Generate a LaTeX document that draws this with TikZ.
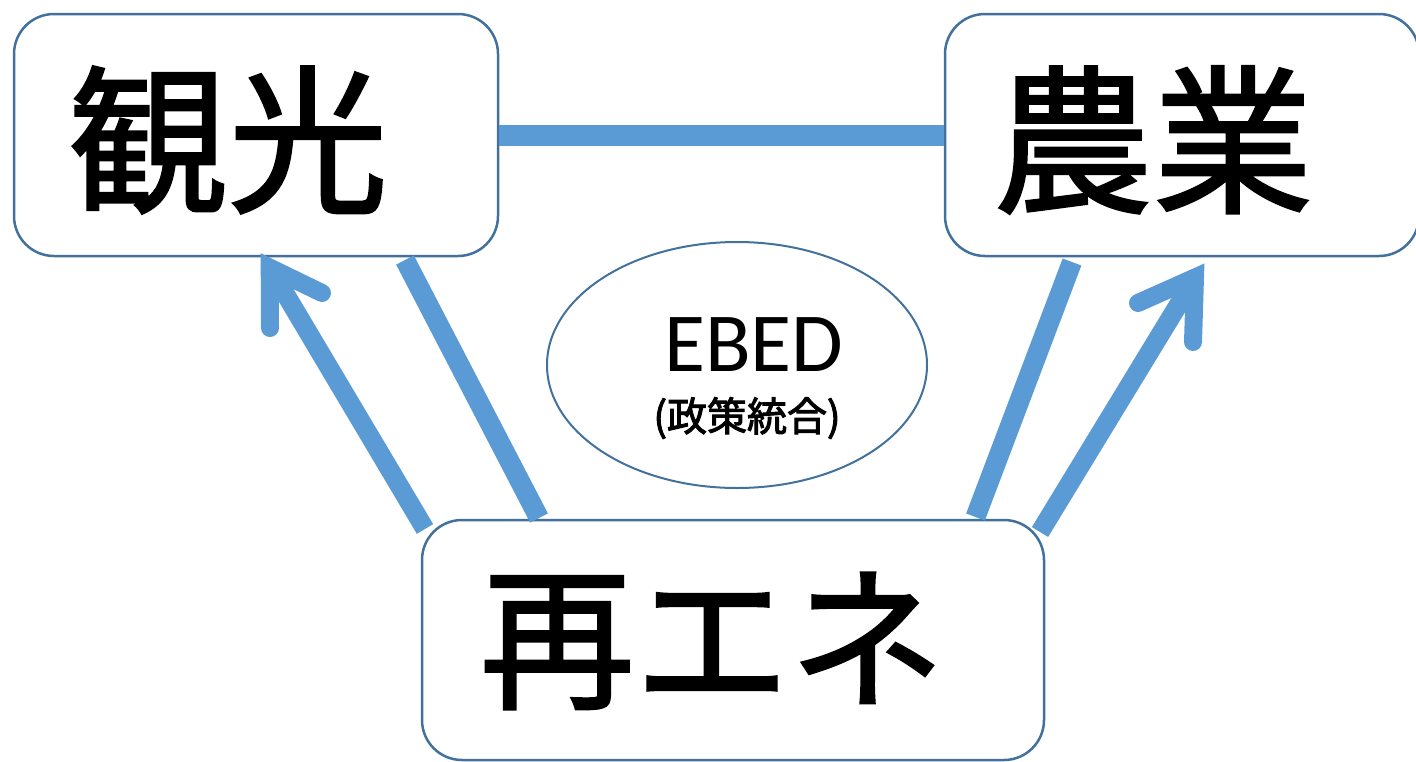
\documentclass[tikz,border=0pt]{standalone}
\usepackage{fontspec}
\setmainfont{Noto Sans CJK JP}
\newfontfamily\cjkheavy{Noto Sans CJK JP}[FakeBold=1.5]
\newfontfamily\cjksmall{Noto Sans CJK JP}[FakeBold=2.5]
\newfontfamily\latinfont{Carlito}
\usetikzlibrary{shapes.geometric}
\definecolor{connblue}{HTML}{5B9BD5}
\definecolor{edgeblue}{HTML}{41719C}
\begin{document}
\begin{tikzpicture}[x=1pt,y=-1pt,
  box/.style={draw=edgeblue, line width=2.5pt, rounded corners=40pt, fill=white, inner sep=0pt},
  bigtext/.style={font=\cjkheavy\fontsize{160}{160}\selectfont, inner sep=0pt},
  link/.style={draw=connblue, line width=20pt},
  headstyle/.style={draw=connblue, line width=18pt, line cap=round, line join=miter, miter limit=10}]
\useasboundingbox (0,0) rectangle (1416,761);
\clip (0,0) rectangle (1416,761);
% boxes
\node[box, minimum width=484pt, minimum height=242pt] (kanko) at (256,135) {};
\node[box, minimum width=474pt, minimum height=242pt] (nogyo) at (1182,135) {};
\node[box, minimum width=622pt, minimum height=240pt] (saiene) at (733,640) {};
\node[draw=edgeblue, line width=2pt, ellipse, minimum width=380pt, minimum height=246pt, inner sep=0pt] (ebed) at (737,365) {};
% texts
\node[bigtext] (tkanko) at (228,140) {観光};
\node[bigtext] (tnogyo) at (1153,140) {農業};
\node[font=\cjkheavy\fontsize{155}{155}\selectfont, inner sep=0pt] (tsaiene) at (712,641) {再エネ};
\node[font=\latinfont\fontsize{84}{84}\selectfont, inner sep=0pt] (tebed) at (754,345) {EBED};
\node[font=\cjksmall\fontsize{40}{40}\selectfont, inner sep=0pt] (tpolicy) at (747,418) {(政策統合)};
% connector coordinates
\coordinate (lA) at (405,260);
\coordinate (lB) at (539,518);
\coordinate (rA) at (1072,262);
\coordinate (rB) at (975.5,517);
\coordinate (alS) at (425,529);
\coordinate (alT) at (269.7,267.6);
\coordinate (alB1) at (270,328);
\coordinate (alB2) at (322,293);
\coordinate (arS) at (1040,532);
\coordinate (arT) at (1195,277.5);
\coordinate (arB1) at (1193,342);
\coordinate (arB2) at (1138,303);
% connectors
\draw[link, line width=21pt] (kanko.east) -- (nogyo.west);
\draw[link] (lA) -- (lB);
\draw[link] (rA) -- (rB);
\draw[link, line width=19pt] (alS) -- (alT);
\draw[headstyle] (alB1) -- (alT) -- (alB2);
\draw[link, line width=19pt] (arS) -- (arT);
\draw[headstyle] (arB1) -- (arT) -- (arB2);
\end{tikzpicture}
\end{document}
